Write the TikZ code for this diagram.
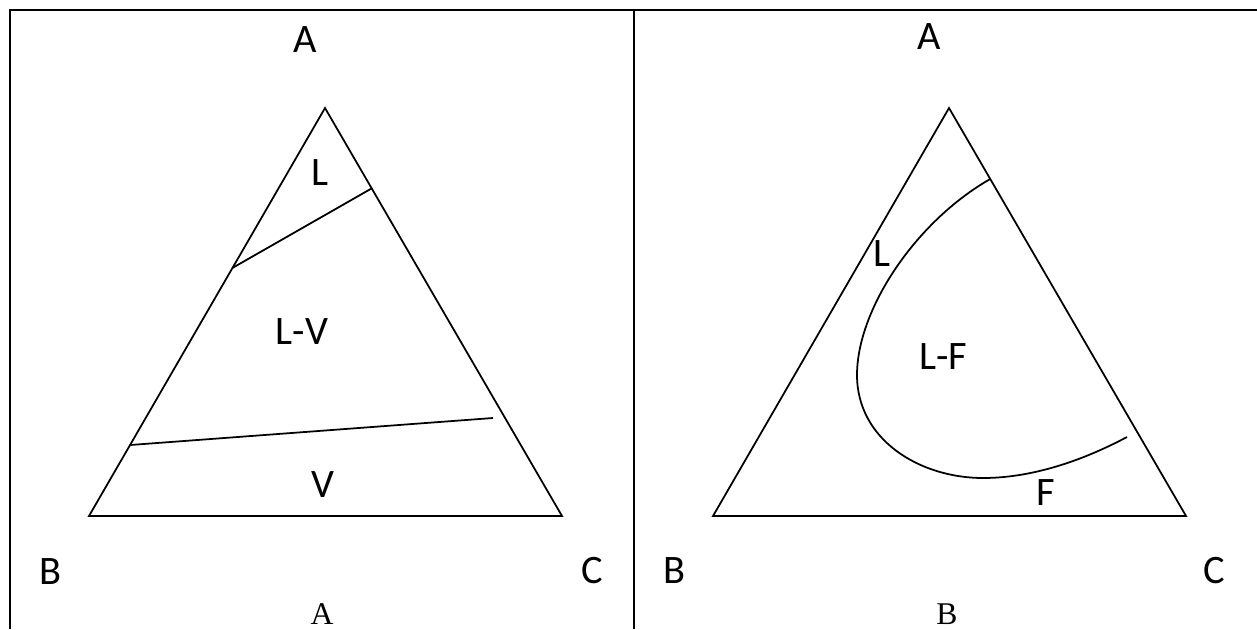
\documentclass[tikz,border=0pt]{standalone}
\usepackage{fontspec}
\setmainfont{Carlito}
\newfontfamily\serifcap{Liberation Serif}
\usetikzlibrary{calc}

\begin{document}
\begin{tikzpicture}[
    x=0.02cm, y=-0.02cm,
    frame/.style={line width=1.4pt},
    tri/.style={line width=1pt, line join=miter},
    vertex/.style={font=\fontsize{23}{27}\selectfont, inner sep=0pt},
    region/.style={font=\fontsize{23}{27}\selectfont, inner sep=0pt},
    panelcap/.style={font=\serifcap\fontsize{18}{22}\selectfont, inner sep=0pt}
]
\useasboundingbox (0,0) rectangle (1257,629);

% Table frame
\draw[frame] (10,629) -- (10,10) -- (1257,10);
\draw[frame] (634,10) -- (634,629);

% Left panel: triangle
\coordinate (lA) at (325,108);
\coordinate (lB) at (89,516);
\coordinate (lC) at (562,516);
\draw[tri] (lA) -- (lB) -- (lC) -- cycle;

% Left panel: region boundaries
\coordinate (lup1) at ($(lA)!0.392!(lB)$);
\coordinate (lup2) at ($(lA)!0.197!(lC)$);
\coordinate (llo1) at ($(lA)!0.826!(lB)$);
\coordinate (llo2) at (493,418);
\draw[tri] (lup1) -- (lup2);
\draw[tri] (llo1) -- (llo2);

% Left panel: labels
\node[vertex] (lnA) at (305,40) {A};
\node[vertex] (lnB) at (50,572) {B};
\node[vertex] (lnC) at (592,571) {C};
\node[region] (lL) at (320,173) {L};
\node[region] (lLV) at (302,332) {L-V};
\node[region] (lV) at (323,485) {V};
\node[panelcap] (capA) at (322,614) {A};

% Right panel: triangle
\coordinate (rA) at (949,108);
\coordinate (rB) at (713,516);
\coordinate (rC) at (1186,516);
\draw[tri] (rA) -- (rB) -- (rC) -- cycle;

% Right panel: L-F boundary
\coordinate (rc1) at ($(rA)!0.174!(rC)$);
\coordinate (rc2) at (857,375);
\coordinate (rc3) at (983,478);
\coordinate (rc4) at (1127,437);
\draw[tri] (rc1) .. controls (915,222) and (857,310) .. (rc2)
               .. controls (857,440) and (920,478) .. (rc3)
               .. controls (1030,478) and (1080,462) .. (rc4);

% Right panel: labels
\node[vertex] (rnA) at (929,37) {A};
\node[vertex] (rnB) at (674,571) {B};
\node[vertex] (rnC) at (1214,571) {C};
\node[region] (rL) at (882,254) {L};
\node[region] (rLF) at (943,357) {L-F};
\node[region] (rF) at (1046,493) {F};
\node[panelcap] (capB) at (947,614) {B};

\end{tikzpicture}
\end{document}
